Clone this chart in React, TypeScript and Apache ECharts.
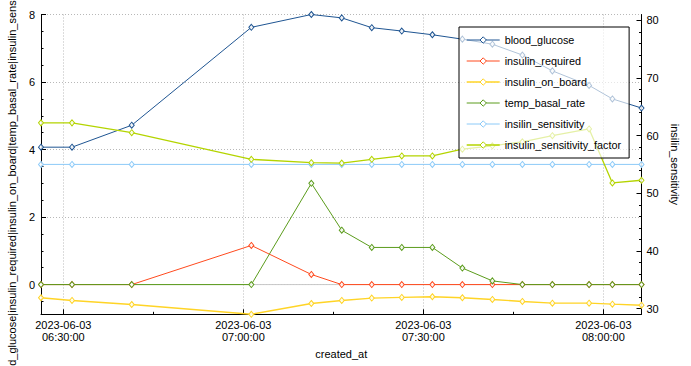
import { useEffect, useRef } from 'react';
import * as echarts from 'echarts';

const day = '2023-06-03';
const times = ['06:26:17', '06:31:27', '06:41:24', '07:01:20', '07:11:20', '07:16:24', '07:21:24', '07:26:24', '07:31:30', '07:36:30', '07:41:30', '07:46:30', '07:51:30', '07:57:37', '08:01:30', '08:06:21'];
const bloodGlucose = [4.07, 4.07, 4.72, 7.62, 8.0, 7.9, 7.61, 7.51, 7.4, 7.27, 7.12, 6.8, 6.33, 5.9, 5.5, 5.23];
const insulinRequired = [0, 0, 0, 1.16, 0.3, 0, 0, 0, 0, 0, 0, 0, 0, 0, 0, 0];
const insulinOnBoard = [-0.39, -0.47, -0.59, -0.88, -0.56, -0.47, -0.4, -0.38, -0.36, -0.39, -0.44, -0.5, -0.55, -0.55, -0.58, -0.61];
const tempBasalRate = [0, 0, 0, 0, 3.0, 1.61, 1.1, 1.1, 1.1, 0.49, 0.11, 0, 0, 0, 0, 0];
const insilinSensitivity = [55, 55, 55, 55, 55, 55, 55, 55, 55, 55, 55, 55, 55, 55, 55, 55];
const insulinSensitivityFactor = [4.79, 4.79, 4.5, 3.71, 3.61, 3.6, 3.71, 3.81, 3.81, 4.01, 4.11, 4.23, 4.41, 4.61, 3.01, 3.09];

const seriesNames = ['blood_glucose', 'insulin_required', 'insulin_on_board', 'temp_basal_rate', 'insilin_sensitivity', 'insulin_sensitivity_factor'];
const xMajorTicks = ['06:30:00', '07:00:00', '07:30:00', '08:00:00'];
const xMinorTicks = ['06:45:00', '07:15:00', '07:45:00'];
const leftMajorTicks = [0, 2, 4, 6, 8];
const leftMinorTicks = [-0.5, 0.5, 1, 1.5, 2.5, 3, 3.5, 4.5, 5, 5.5, 6.5, 7, 7.5];
const rightMajorTicks = [30, 40, 50, 60, 70, 80];
const rightMinorTicks = [32, 34, 36, 38, 42, 44, 46, 48, 52, 54, 56, 58, 62, 64, 66, 68, 72, 74, 76, 78];
const rightRange = [29, 81];

const COLORS = ['#1f5592', '#ff4a1e', '#ffd426', '#5b9c1c', '#8ccaf8', '#b4d400'];
const WIDTHS = [1, 1, 1.4, 1, 1, 1.3];
const FONT = 'Liberation Sans';

function toMs(t: string): number {
  const [h, m, s] = t.split(':').map(Number);
  const [Y, M, D] = day.split('-').map(Number);
  return Date.UTC(Y, M - 1, D, h, m, s);
}
function pad(n: number) {
  return n < 10 ? '0' + n : '' + n;
}
function fmt(v: number) {
  const d = new Date(v);
  return `${d.getUTCFullYear()}-${pad(d.getUTCMonth() + 1)}-${pad(d.getUTCDate())}\n${pad(d.getUTCHours())}:${pad(d.getUTCMinutes())}:${pad(d.getUTCSeconds())}`;
}

export default function App() {
  const ref = useRef<HTMLDivElement>(null);
  useEffect(() => {
    if (!ref.current) return;
    const chart = echarts.init(ref.current, undefined, { renderer: 'svg' });
    const xs = times.map(toMs);
    const xMin = Math.min(...xs);
    const xMax = Math.max(...xs);
    const leftVals = [...bloodGlucose, ...insulinRequired, ...insulinOnBoard, ...tempBasalRate, ...insulinSensitivityFactor];
    const leftMin = Math.min(...leftVals);
    const leftMax = Math.max(...leftVals);
    const pairs = (arr: number[]) => arr.map((v, i) => [xs[i], v]);
    const seriesData = [bloodGlucose, insulinRequired, insulinOnBoard, tempBasalRate, insilinSensitivity, insulinSensitivityFactor];
    const axisOf = [0, 0, 0, 0, 1, 0];

    const dataSeries = seriesNames.map((name, i) => ({
      name,
      type: 'line',
      yAxisIndex: axisOf[i],
      data: pairs(seriesData[i]),
      symbol: 'diamond',
      symbolSize: [5, 6],
      itemStyle: { color: 'rgba(255,255,255,0.85)', borderColor: COLORS[i], borderWidth: 1 },
      lineStyle: { color: COLORS[i], width: WIDTHS[i] },
      emphasis: { disabled: true },
    }));

    const grid = { left: 41, top: 14.5, width: 600.5, height: 299.8, containLabel: false, outerBoundsMode: 'none' };
    const tickText = { color: '#000', fontSize: 11, fontFamily: FONT };
    const dotted = { show: true, lineStyle: { color: '#b8b8b8', type: [1, 2], width: 1 } };

    chart.setOption({
      animation: false,
      backgroundColor: '#fff',
      textStyle: { fontFamily: FONT },
      grid,
      legend: {
        orient: 'vertical',
        left: 459,
        top: 27,
        padding: [6, 8, 6, 7],
        itemWidth: 33,
        itemHeight: 8,
        itemGap: 7,
        backgroundColor: 'rgba(255,255,255,0.65)',
        borderColor: '#000',
        borderWidth: 1,
        borderRadius: 0,
        textStyle: { color: '#000', fontSize: 10.8, fontFamily: FONT, lineHeight: 14 },
        data: seriesNames.map((name, i) => ({
          name,
          itemStyle: { color: '#fff', borderColor: COLORS[i], borderWidth: 1 },
          lineStyle: { color: COLORS[i], width: WIDTHS[i] },
        })),
      },
      xAxis: [
        {
          type: 'value',
          position: 'bottom',
          min: xMin,
          max: xMax,
          axisLine: { show: true, onZero: false, lineStyle: { color: '#000', width: 1 } },
          axisTick: { show: true, inside: true, length: 5, customValues: xMajorTicks.map(toMs), lineStyle: { color: '#000' } },
          axisLabel: { ...tickText, customValues: xMajorTicks.map(toMs), formatter: (v: number) => fmt(v), margin: 4, lineHeight: 12.7 },
          splitLine: dotted,
          name: 'created_at',
          nameLocation: 'middle',
          nameGap: 32,
          nameTextStyle: { ...tickText },
        },
        {
          type: 'value',
          position: 'bottom',
          min: xMin,
          max: xMax,
          axisLine: { show: false, onZero: false },
          axisTick: { show: true, inside: true, length: 2.5, customValues: xMinorTicks.map(toMs), lineStyle: { color: '#000' } },
          axisLabel: { show: false },
          splitLine: { show: false },
        },
      ],
      yAxis: [
        {
          type: 'value',
          position: 'left',
          min: leftMin,
          max: leftMax,
          axisLine: { show: true, onZero: false, lineStyle: { color: '#000', width: 1 } },
          axisTick: { show: true, inside: true, length: 5, customValues: leftMajorTicks, lineStyle: { color: '#000' } },
          axisLabel: { ...tickText, customValues: leftMajorTicks, margin: 6 },
          splitLine: dotted,
          name: 'blood_glucose|insulin_required|insulin_on_board|temp_basal_rate|insulin_sensitivity_factor',
          nameLocation: 'middle',
          nameRotate: 90,
          nameGap: 19,
          nameTextStyle: { ...tickText },
        },
        {
          type: 'value',
          position: 'right',
          min: rightRange[0],
          max: rightRange[1],
          axisLine: { show: true, onZero: false, lineStyle: { color: '#000', width: 1 } },
          axisTick: { show: true, inside: true, length: 5, customValues: rightMajorTicks, lineStyle: { color: '#000' } },
          axisLabel: { ...tickText, customValues: rightMajorTicks, margin: 5 },
          splitLine: { show: false },
          name: 'insilin_sensitivity',
          nameLocation: 'middle',
          nameRotate: -90,
          nameGap: 28,
          nameTextStyle: { ...tickText },
        },
        {
          type: 'value',
          position: 'left',
          min: leftMin,
          max: leftMax,
          axisLine: { show: false, onZero: false },
          axisTick: { show: true, inside: true, length: 2.5, customValues: leftMinorTicks, lineStyle: { color: '#000' } },
          axisLabel: { show: false },
          splitLine: { show: false },
        },
        {
          type: 'value',
          position: 'right',
          min: rightRange[0],
          max: rightRange[1],
          axisLine: { show: false, onZero: false },
          axisTick: { show: true, inside: true, length: 2.5, customValues: rightMinorTicks, lineStyle: { color: '#000' } },
          axisLabel: { show: false },
          splitLine: { show: false },
        },
      ],
      series: [
        {
          name: 'zero',
          type: 'line',
          yAxisIndex: 0,
          data: [[xMin, 0], [xMax, 0]],
          symbol: 'none',
          silent: true,
          lineStyle: { color: '#c8c8c8', width: 1 },
        },
        ...dataSeries,
      ],
    });
    return () => chart.dispose();
  }, []);
  return <div ref={ref} style={{ position: 'fixed', left: 0, top: 0, width: 691, height: 366, background: '#fff' }} />;
}
